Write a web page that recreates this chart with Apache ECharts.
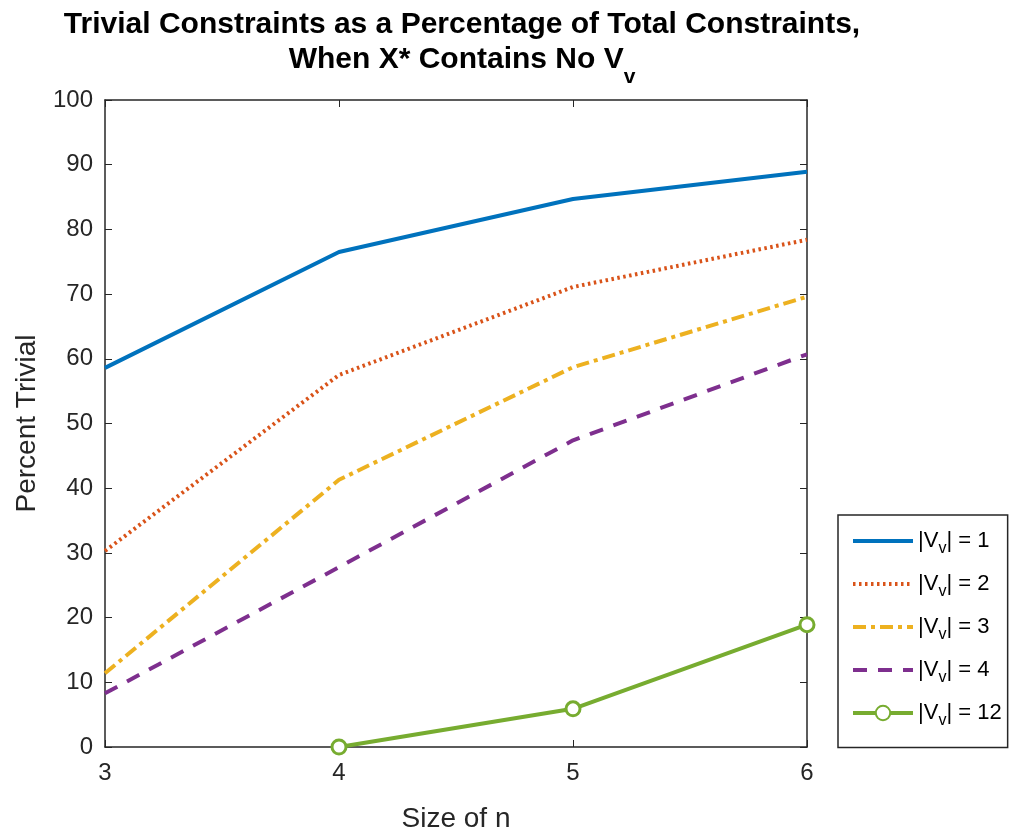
<!DOCTYPE html>
<html>
<head>
<meta charset="utf-8">
<script src="https://cdn.jsdelivr.net/npm/echarts@6/dist/echarts.min.js"></script>
<style>
html, body { margin: 0; padding: 0; background: #fff; }
#chart { width: 1009px; height: 831px; }
</style>
</head>
<body>
<div id="chart"></div>
<script>
// data
var sizes = [3, 4, 5, 6];
var vv1 = [58.6, 76.5, 84.7, 88.9];
var vv2 = [30.3, 57.5, 71.1, 78.4];
var vv3 = [11.4, 41.3, 58.7, 69.6];
var vv4 = [8.3, 27.8, 47.4, 60.7];
var vv12 = [null, 0, 5.9, 18.9];
var legendNames = ['1', '2', '3', '4', '12'];

var AX = '#262626';
var FONT = '"Liberation Sans", Arial, sans-serif';

function pts(vals) {
    var out = [];
    for (var i = 0; i < sizes.length; i++) {
        out.push([sizes[i], vals[i] === null ? '-' : vals[i]]);
    }
    return out;
}

function mk(idx, vals, color, type, extra) {
    var s = {
        name: legendNames[idx],
        type: 'line',
        data: pts(vals),
        symbol: 'none',
        lineStyle: { color: color, width: 4, type: type },
        itemStyle: { color: color },
        z: 3
    };
    for (var k in extra) s[k] = extra[k];
    return s;
}

// legend entries: plain line for the first four, line + circle for the last
var legendData = [];
for (var i = 0; i < legendNames.length; i++) {
    if (i < 4) legendData.push({ name: legendNames[i], itemStyle: { opacity: 0 } });
    else legendData.push({ name: legendNames[i] });
}

var myChart = echarts.init(document.getElementById('chart'));
var option = {
    backgroundColor: '#fff',
    animation: false,
    title: {
        text: '{m|Trivial Constraints as a Percentage of Total Constraints,}\n{m|When X* Contains No V}{sub|v}',
        left: 457,
        textAlign: 'center',
        top: 5,
        textStyle: {
            fontFamily: FONT, fontSize: 30, fontWeight: 'bold', color: '#000',
            rich: {
                m: { fontFamily: FONT, fontSize: 30, fontWeight: 'bold', color: '#000', lineHeight: 35, verticalAlign: 'top' },
                sub: { fontFamily: FONT, fontSize: 21, fontWeight: 'bold', color: '#000', lineHeight: 24, verticalAlign: 'top', padding: [22, 0, 0, 0] }
            }
        }
    },
    legend: {
        orient: 'vertical',
        left: 838,
        top: 515,
        padding: [15, 6, 19, 13],
        itemGap: 16.5,
        itemWidth: 60,
        itemHeight: 18,
        borderColor: AX,
        borderWidth: 1.5,
        borderRadius: 0,
        backgroundColor: '#fff',
        lineStyle: { width: 4 },
        formatter: function (n) { return '|V{sub|v}| = ' + n; },
        textStyle: {
            fontFamily: FONT, fontSize: 22, color: '#000',
            rich: {
                sub: { fontFamily: FONT, fontSize: 16, color: '#000', verticalAlign: 'bottom', padding: [15, 0, 0, 0] }
            }
        },
        data: legendData
    },
    grid: { left: 105, right: 202, top: 100, bottom: 84, containLabel: false, outerBoundsMode: 'none' },
    xAxis: [{
        type: 'value', min: 3, max: 6, interval: 1,
        name: 'Size of n', nameLocation: 'middle', nameGap: 58,
        nameTextStyle: { fontFamily: FONT, fontSize: 28, color: AX },
        axisLine: { show: true, onZero: false, lineStyle: { color: AX, width: 1.5 } },
        axisTick: { show: true, inside: true, length: 7, lineStyle: { color: AX } },
        axisLabel: { fontFamily: FONT, fontSize: 24, color: AX, margin: 14 },
        splitLine: { show: false }
    }, {
        type: 'value', min: 3, max: 6, interval: 1, position: 'top',
        axisLine: { show: true, onZero: false, lineStyle: { color: AX, width: 1.5 } },
        axisTick: { show: true, inside: true, length: 7, lineStyle: { color: AX } },
        axisLabel: { show: false },
        splitLine: { show: false }
    }],
    yAxis: [{
        type: 'value', min: 0, max: 100, interval: 10,
        name: 'Percent Trivial', nameLocation: 'middle', nameGap: 64,
        nameTextStyle: { fontFamily: FONT, fontSize: 28, color: AX },
        axisLine: { show: true, onZero: false, lineStyle: { color: AX, width: 1.5 } },
        axisTick: { show: true, inside: true, length: 7, lineStyle: { color: AX } },
        axisLabel: { fontFamily: FONT, fontSize: 24, color: AX, margin: 12 },
        splitLine: { show: false }
    }, {
        type: 'value', min: 0, max: 100, interval: 10, position: 'right',
        axisLine: { show: true, onZero: false, lineStyle: { color: AX, width: 1.5 } },
        axisTick: { show: true, inside: true, length: 7, lineStyle: { color: AX } },
        axisLabel: { show: false },
        splitLine: { show: false }
    }],
    series: [
        mk(0, vv1, '#0072BD', 'solid', {}),
        mk(1, vv2, '#D95319', [2.5, 3.5], {}),
        mk(2, vv3, '#EDB120', [13, 5, 4, 5], {}),
        mk(3, vv4, '#7E2F8E', [14, 11], {}),
        mk(4, vv12, '#77AC30', 'solid', {
            symbol: 'circle', symbolSize: 14, showSymbol: true,
            itemStyle: { color: '#fff', borderColor: '#77AC30', borderWidth: 3 },
            connectNulls: false
        })
    ]
};
myChart.setOption(option);
</script>
</body>
</html>
